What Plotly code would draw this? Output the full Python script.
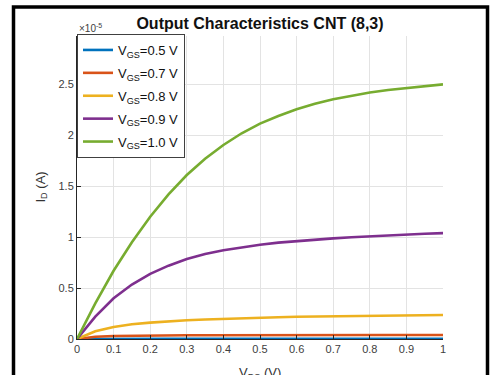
import plotly.graph_objects as go

# ---- data (drain current in units of 1e-5 A) ----
vds = [0, 0.05, 0.1, 0.15, 0.2, 0.25, 0.3, 0.35, 0.4, 0.45, 0.5,
       0.55, 0.6, 0.65, 0.7, 0.75, 0.8, 0.85, 0.9, 0.95, 1.0]
id_vgs05 = [0, 0.002, 0.003, 0.003, 0.003, 0.003, 0.003, 0.003, 0.003, 0.003, 0.003,
            0.003, 0.003, 0.003, 0.003, 0.003, 0.003, 0.003, 0.003, 0.003, 0.003]
id_vgs07 = [0, 0.022, 0.030, 0.033, 0.035, 0.036, 0.037, 0.037, 0.038, 0.038, 0.038,
            0.039, 0.039, 0.039, 0.039, 0.040, 0.040, 0.040, 0.040, 0.040, 0.040]
id_vgs08 = [0, 0.075, 0.118, 0.144, 0.161, 0.174, 0.184, 0.192, 0.199, 0.205, 0.210,
            0.214, 0.218, 0.221, 0.224, 0.227, 0.229, 0.231, 0.233, 0.235, 0.236]
id_vgs09 = [0, 0.22, 0.40, 0.535, 0.64, 0.72, 0.785, 0.835, 0.872, 0.902, 0.926,
            0.946, 0.962, 0.976, 0.988, 0.999, 1.009, 1.018, 1.026, 1.033, 1.04]
id_vgs10 = [0, 0.35, 0.67, 0.95, 1.20, 1.42, 1.61, 1.77, 1.905, 2.02, 2.115,
            2.19, 2.255, 2.31, 2.355, 2.39, 2.42, 2.445, 2.465, 2.484, 2.50]
scale = 1e-5
series_names = ["V<sub>GS</sub>=0.5 V", "V<sub>GS</sub>=0.7 V", "V<sub>GS</sub>=0.8 V",
                "V<sub>GS</sub>=0.9 V", "V<sub>GS</sub>=1.0 V"]
series_vals = [id_vgs05, id_vgs07, id_vgs08, id_vgs09, id_vgs10]
colors = ["#0072BD", "#D95319", "#EDB120", "#7E2F8E", "#77AC30"]

x_ticks = [0, 0.1, 0.2, 0.3, 0.4, 0.5, 0.6, 0.7, 0.8, 0.9, 1]
x_ticklabels = ["0", "0.1", "0.2", "0.3", "0.4", "0.5", "0.6", "0.7", "0.8", "0.9", "1"]
y_ticks = [0, 0.5, 1, 1.5, 2, 2.5]
y_ticklabels = ["0", "0.5", "1", "1.5", "2", "2.5"]

fig = go.Figure()
for i, (name, vals, c) in enumerate(zip(series_names, series_vals, colors)):
    fig.add_trace(go.Scatter(x=vds, y=[v * scale for v in vals], mode="lines",
                             name=name, legendgroup=f"g{i}",
                             line=dict(color=c, width=2.6, shape="linear")))

axis_color = "#262626"
font_family = "Liberation Sans, Arial, sans-serif"
fig.update_layout(
    width=491, height=375,
    margin=dict(l=77, r=48, t=36, b=36),
    paper_bgcolor="white", plot_bgcolor="white",
    font=dict(family=font_family, size=11, color="#404040"),
    title=dict(text="<b>Output Characteristics CNT (8,3)</b>", x=0.5, xref="paper",
               xanchor="center", y=1 - 23 / 375, yref="container", yanchor="middle",
               font=dict(size=16, color="#111111", family=font_family)),
    showlegend=True,
    legend=dict(x=0, y=1 + 2 / 302.5, xanchor="left", yanchor="top", bgcolor="white",
                bordercolor="#404040", borderwidth=1, traceorder="grouped",
                font=dict(size=13, color="#111111", family=font_family),
                tracegroupgap=3, itemwidth=30),
    xaxis=dict(range=[0, 1], tickvals=x_ticks,
               ticktext=x_ticklabels, showgrid=True, gridcolor="#e3e3e3", gridwidth=1,
               showline=True, linecolor=axis_color, linewidth=1, ticks="inside",
               ticklen=4, tickcolor=axis_color, zeroline=False, mirror=False,
               tickfont=dict(size=11, color="#404040")),
    yaxis=dict(range=[0, 2.975 * scale], tickvals=[t * scale for t in y_ticks],
               ticktext=y_ticklabels, showgrid=True, gridcolor="#e3e3e3", gridwidth=1,
               showline=True, linecolor=axis_color, linewidth=1, ticks="inside",
               ticklen=4, tickcolor=axis_color, zeroline=False, mirror=False,
               tickfont=dict(size=11, color="#404040")),
)

# axis labels and exponent
fig.add_annotation(text="I<sub>D</sub> (A)", xref="paper", yref="paper",
                   x=(41 - 77) / 366, y=0.5, textangle=-90, showarrow=False,
                   font=dict(size=13, color="#333333", family=font_family),
                   xanchor="center", yanchor="middle")
fig.add_annotation(text="V<sub>DS</sub> (V)", xref="paper", yref="paper",
                   x=0.5, y=(338.5 - 362) / 302.5, showarrow=False,
                   font=dict(size=13, color="#333333", family=font_family),
                   xanchor="center", yanchor="top")
fig.add_annotation(text="×10<sup>-5</sup>", xref="paper", yref="paper",
                   x=0, y=1, showarrow=False, xanchor="left", yanchor="bottom",
                   font=dict(size=10, color="#404040", family=font_family))

# black picture frame (left, top, right)
xl = (13.5 - 77) / 366
xr = (487.5 - 77) / 366
yt = (338.5 - 7) / 302.5
yb = (338.5 - 400) / 302.5
fig.add_shape(type="path", xref="paper", yref="paper",
              path=f"M {xl} {yb} L {xl} {yt} L {xr} {yt} L {xr} {yb}",
              line=dict(color="black", width=3.5))

fig.write_html("out.html")
